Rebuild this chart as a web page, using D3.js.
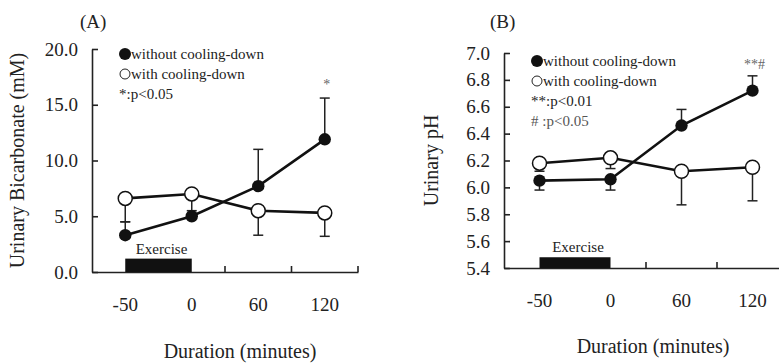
<!DOCTYPE html>
<html>
<head>
<meta charset="utf-8">
<script src="https://cdn.jsdelivr.net/npm/d3@7"></script>
<style>
  body { margin: 0; background: #fff; }
  svg text { font-family: "Liberation Serif", serif !important; fill: #222; }
</style>
</head>
<body>
<svg width="779" height="363"></svg>
<script>
// shared categories (minutes)
var durations = ["-50", "0", "60", "120"];

// (A) urinary bicarbonate, mM
var bicarbWithout = [3.3, 5.0, 7.7, 11.9];
var bicarbWithoutErr = [1.2, 0, 3.3, 3.7];   // upward bars
var bicarbWith = [6.6, 7.0, 5.5, 5.3];
var bicarbWithErr = [2.1, 1.5, 2.2, 2.1];    // downward bars
var bicarbTicks = [0, 5, 10, 15, 20];

// (B) urinary pH
var phWithout = [6.05, 6.06, 6.46, 6.72];
var phWithoutErr = [-0.07, -0.08, 0.12, 0.11]; // negative = downward
var phWith = [6.18, 6.22, 6.12, 6.15];
var phWithErr = [0.06, 0.08, 0.25, 0.25];
var phTicks = [5.4, 5.6, 5.8, 6.0, 6.2, 6.4, 6.6, 6.8, 7.0];

var svg = d3.select("svg");

function panel(o) {
  var g = svg.append("g");
  var x = d3.scaleBand().domain(durations).range([o.x0, o.x0 + o.step * 4]).padding(0);
  var y = d3.scaleLinear().domain(o.ydom).range([o.ybot, o.ytop]);
  var cx = function(d) { return x(d) + x.bandwidth() / 2; };

  // y axis, ticks inward
  var yAxis = g.append("g")
    .attr("transform", "translate(" + o.x0 + ",0)")
    .call(d3.axisLeft(y).tickValues(o.yticks).tickFormat(d3.format(".1f"))
      .tickSizeInner(-6).tickSizeOuter(0).tickPadding(14));
  yAxis.attr("font-family", null);
  yAxis.selectAll("text").style("font-size", "19px").attr("fill", "#222");
  yAxis.selectAll("line, path").attr("stroke", "#222").attr("stroke-width", 1.6);

  // x axis: baseline, upward separators, labels centred on bands
  var xAxis = g.append("g")
    .attr("transform", "translate(0," + o.ybot + ")")
    .call(d3.axisBottom(x).tickSize(0).tickPadding(26));
  xAxis.attr("font-family", null);
  xAxis.select(".domain").attr("stroke", "#222").attr("stroke-width", 1.6);
  xAxis.selectAll("text").style("font-size", "19px").attr("fill", "#222");
  g.selectAll(".sep").data(durations).enter().append("line")
    .attr("x1", function(d) { return x(d) + x.bandwidth(); })
    .attr("x2", function(d) { return x(d) + x.bandwidth(); })
    .attr("y1", o.ybot).attr("y2", o.ybot - 6)
    .attr("stroke", "#222").attr("stroke-width", 1.6);

  // exercise bar, from -50 to 0
  g.append("rect")
    .attr("x", cx("-50")).attr("width", cx("0") - cx("-50"))
    .attr("y", y(o.exTop)).attr("height", y(o.ydom[0]) - y(o.exTop))
    .attr("fill", "#111");
  g.append("text")
    .attr("x", (cx("-50") + cx("0")) / 2 + 3).attr("y", y(o.exTop) - 5)
    .attr("text-anchor", "middle").style("font-size", "15px")
    .text("Exercise");

  // error bars
  function errs(vals, e, dir) {
    var eg = g.append("g").attr("stroke", "#222").attr("stroke-width", 1.5);
    durations.forEach(function(d, i) {
      if (!e[i]) return;
      var end = vals[i] + dir * e[i];
      eg.append("line").attr("x1", cx(d)).attr("x2", cx(d))
        .attr("y1", y(vals[i])).attr("y2", y(end));
      eg.append("line").attr("x1", cx(d) - 5).attr("x2", cx(d) + 5)
        .attr("y1", y(end)).attr("y2", y(end));
    });
  }
  errs(o.without, o.withoutErr, 1);
  errs(o.withv, o.withErr, -1);

  var line = d3.line().x(function(d, i) { return cx(durations[i]); }).y(function(d) { return y(d); });
  g.append("path").datum(o.withv).attr("d", line)
    .attr("fill", "none").attr("stroke", "#111").attr("stroke-width", 2.6);
  g.append("path").datum(o.without).attr("d", line)
    .attr("fill", "none").attr("stroke", "#111").attr("stroke-width", 2.6);

  g.selectAll(".open").data(o.withv).enter().append("circle")
    .attr("cx", function(d, i) { return cx(durations[i]); })
    .attr("cy", function(d) { return y(d); })
    .attr("r", 7).attr("fill", "#fff").attr("stroke", "#111").attr("stroke-width", 1.5);
  g.selectAll(".filled").data(o.without).enter().append("circle")
    .attr("cx", function(d, i) { return cx(durations[i]); })
    .attr("cy", function(d) { return y(d); })
    .attr("r", 6.2).attr("fill", "#111");

  // legend
  var lg = g.append("g").attr("transform", "translate(" + o.legX + "," + o.legY + ")");
  lg.append("circle").attr("cx", 0).attr("cy", 0).attr("r", 6).attr("fill", "#111");
  lg.append("text").attr("x", 6).attr("y", 5).style("font-size", "15px").text("without cooling-down");
  lg.append("circle").attr("cx", 0).attr("cy", 20).attr("r", 5).attr("fill", "#fff")
    .attr("stroke", "#222").attr("stroke-width", 1);
  lg.append("text").attr("x", 6).attr("y", 25).style("font-size", "15px").text("with cooling-down");
  o.notes.forEach(function(n, i) {
    lg.append("text").attr("x", -6).attr("y", 45 + i * 20).style("font-size", "15px")
      .style("fill", n.c || "#222").text(n.t);
  });

  // significance mark at 120
  g.append("text").attr("x", cx("120") + 2).attr("y", o.sigY)
    .attr("text-anchor", "middle").style("font-size", "14px").style("fill", "#666")
    .text(o.sig);

  // titles
  g.append("text").attr("x", o.xlabX).attr("y", o.xlabY)
    .attr("text-anchor", "middle").style("font-size", "20px").text("Duration (minutes)");
  g.append("text")
    .attr("transform", "translate(" + o.ylabX + "," + ((o.ytop + o.ybot) / 2) + ") rotate(-90)")
    .attr("text-anchor", "middle").style("font-size", "20px").text(o.ylab);
  g.append("text").attr("x", o.panX).attr("y", 28).style("font-size", "19px").text(o.panel);
}

panel({
  x0: 92, step: 66.5, ytop: 49, ybot: 272, ydom: [0, 20], yticks: bicarbTicks, exTop: 1.2,
  without: bicarbWithout, withoutErr: bicarbWithoutErr, withv: bicarbWith, withErr: bicarbWithErr,
  legX: 125, legY: 54, notes: [{t: "*:p<0.05"}], sig: "*", sigY: 89,
  xlabX: 240, xlabY: 358, ylabX: 24, ylab: "Urinary Bicarbonate (mM)", panX: 80, panel: "(A)"
});

panel({
  x0: 504, step: 71, ytop: 53, ybot: 268, ydom: [5.4, 7.0], yticks: phTicks, exTop: 5.48,
  without: phWithout, withoutErr: phWithoutErr, withv: phWith, withErr: phWithErr,
  legX: 537, legY: 61, notes: [{t: "**:p<0.01"}, {t: "# :p<0.05", c: "#555"}], sig: "**#", sigY: 69,
  xlabX: 653, xlabY: 353, ylabX: 438, ylab: "Urinary pH", panX: 490, panel: "(B)"
});
</script>
</body>
</html>
